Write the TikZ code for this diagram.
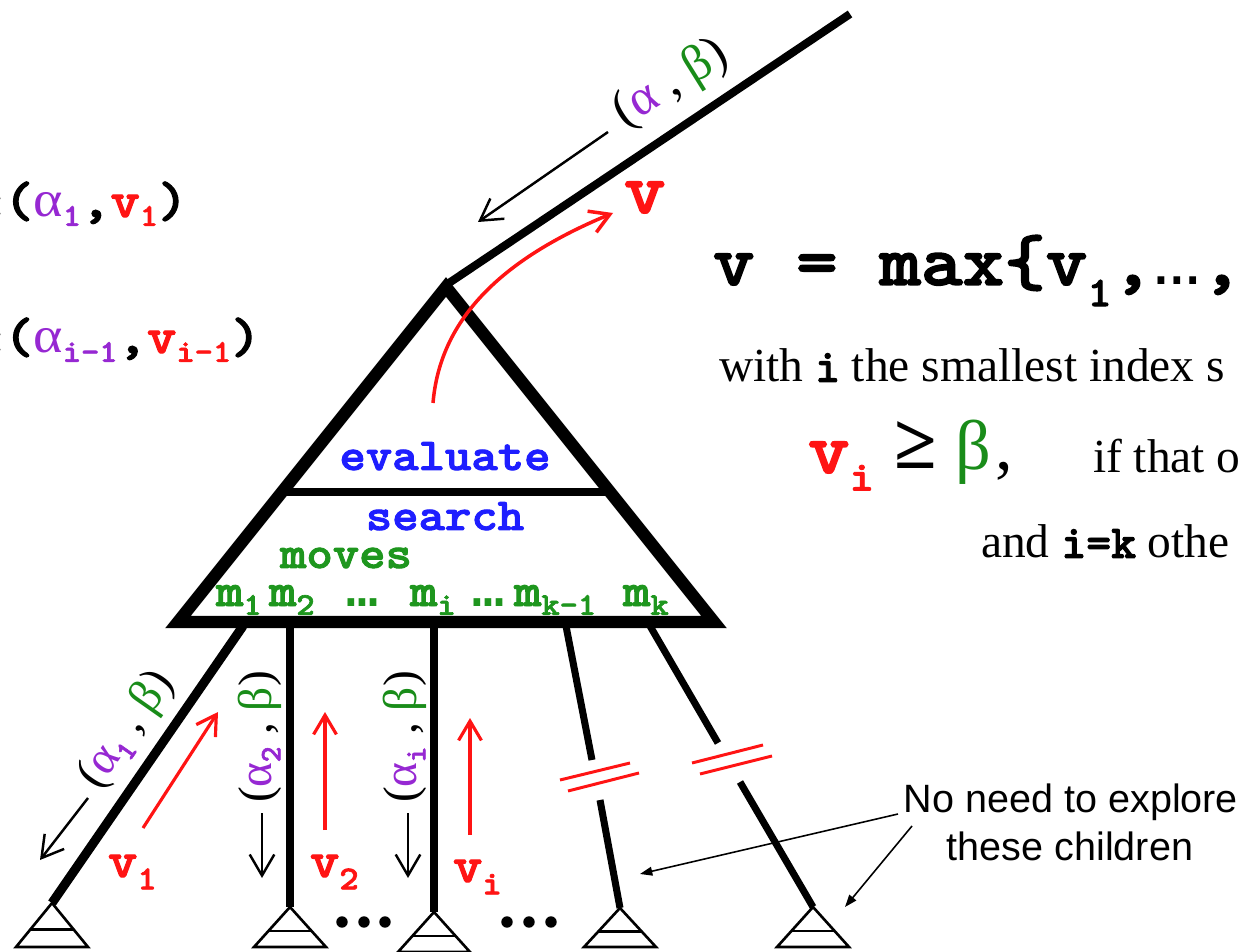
\documentclass[tikz,border=0pt]{standalone}
\usepackage{graphicx}
\usepackage{fontspec}
\setmainfont{Liberation Serif}
\newfontfamily\monof{Liberation Mono}
\newfontfamily\sansf{Liberation Sans}
\newfontfamily\cbf{lmmonolt10-bold.otf}[FakeBold=2]
\usetikzlibrary{arrows.meta}
\definecolor{cred}{RGB}{255,20,20}
\definecolor{cpurple}{RGB}{150,40,210}
\definecolor{cgreen}{RGB}{25,140,25}
\definecolor{cgreenb}{RGB}{30,150,30}
\definecolor{cblue}{RGB}{30,30,255}
\newcommand{\fsz}[1]{\fontsize{#1}{#1}\selectfont}
\newcommand{\cb}{\cbf}
\newcommand{\cw}[1]{\scalebox{1.1}[1]{#1}}
\newcommand{\myell}{{\monof\bfseries …}}
\newcommand{\dn}[3]{\raisebox{-#1}{\fsz{#2}#3}}
\tikzset{
  every node/.style={inner sep=0pt, outer sep=0pt},
  bigtri/.style={line width=7pt, line join=miter},
  sepline/.style={line width=4pt},
  topline/.style={line width=4.6pt},
  branch/.style={line width=4.4pt},
  leaf/.style={line width=1.5pt, line join=miter},
  blackarr/.style={line width=1.4pt, -{Straight Barb[length=12pt,width=14pt]}},
  redarr/.style={cred, line width=1.8pt, -{Straight Barb[length=11pt,width=13pt]}},
  cutmark/.style={cred, line width=1.7pt},
  notearr/.style={line width=0.9pt, -{Triangle[length=7pt,width=5pt]}},
  dotc/.style={fill=black, draw=none, circle, minimum size=6.5pt}
}
\begin{document}
\begin{tikzpicture}[x=0.02cm,y=-0.02cm]
\useasboundingbox (0,0) rectangle (1241,952);
\clip (0,0) rectangle (1241,952);

% main triangle
\coordinate (apex) at (446,287);
\coordinate (bl) at (178,622);
\coordinate (br) at (714,622);
\coordinate (top) at (850,14);
\coordinate (sepl) at (283,492);
\coordinate (sepr) at (611,492);
\draw[topline] (446,285) coordinate (apex2) -- (top);
\draw[bigtri] (apex) -- (bl) -- (br) -- cycle;
\draw[sepline] (sepl) -- (sepr);

% children lines
\coordinate (c1t) at (243,626); \coordinate (c1b) at (52,903);
\coordinate (c2t) at (290,626); \coordinate (c2b) at (290,907);
\coordinate (c3t) at (434,626); \coordinate (c3b) at (434,912);
\coordinate (c4t) at (566,626); \coordinate (c4m) at (592,760);
\coordinate (c4n) at (600,800); \coordinate (c4b) at (620,908);
\coordinate (c5t) at (650,626); \coordinate (c5m) at (718,743);
\coordinate (c5n) at (740,782); \coordinate (c5b) at (813,907);
\draw[branch, line width=5.2pt] (c1t) -- (c1b);
\draw[branch] (c2t) -- (c2b);
\draw[branch] (c3t) -- (c3b);
\draw[branch, line width=4pt] (c4t) -- (c4m);
\draw[branch, line width=4pt] (c4n) -- (c4b);
\draw[branch, line width=4pt] (c5t) -- (c5m);
\draw[branch, line width=4pt] (c5n) -- (c5b);

% cut marks
\draw[cutmark] (560,780) coordinate (k1a) -- (630,763) coordinate (k1b);
\draw[cutmark] (568,791) coordinate (k2a) -- (639,773) coordinate (k2b);
\draw[cutmark] (692,763) coordinate (k3a) -- (763,745) coordinate (k3b);
\draw[cutmark] (700,774) coordinate (k4a) -- (772,756) coordinate (k4b);

% leaf triangles
\foreach \n/\cx/\ty/\by in {1/52/903/947, 2/290/907/947, 3/434/912/952, 4/620/908/947, 5/813/907/947}{
  \pgfmathsetmacro{\hh}{\by-\ty}
  \pgfmathsetmacro{\my}{\ty+0.6*\hh}
  \pgfmathsetmacro{\mw}{36*0.6}
  \draw[leaf] (\cx,\ty) -- (\cx-36,\by) -- (\cx+36,\by) -- cycle;
  \draw[leaf] (\cx-\mw,\my) -- (\cx+\mw,\my);
}

% dots
\node[dotc] (d1) at (342,922) {};
\node[dotc] (d2) at (364,922) {};
\node[dotc] (d3) at (385,922) {};
\node[dotc] (d4) at (507,922) {};
\node[dotc] (d5) at (529,922) {};
\node[dotc] (d6) at (551,922) {};

% triangle labels
\node[anchor=base] (evl) at (445,470) {\cw{\fsz{26}\cb\color{cblue}evaluate}};
\node[anchor=base] (srch) at (445,530) {\cw{\fsz{26}\cb\color{cblue}search}};
\node[anchor=base] (mvs) at (346,568) {\cw{\fsz{26}\cb\color{cgreenb}moves}};
\node[anchor=base west] (m1) at (216,606) {\cw{\fsz{27}\cb\color{cgreenb}m\dn{5pt}{18}{1}}};
\node[anchor=base west] (m2) at (269,606) {\cw{\fsz{27}\cb\color{cgreenb}m\dn{5pt}{18}{2}}};
\node[anchor=base west] (md1) at (346,606) {\fsz{30}\color{cgreenb}\myell};
\node[anchor=base west] (mi) at (410,606) {\cw{\fsz{27}\cb\color{cgreenb}m\dn{5pt}{18}{i}}};
\node[anchor=base west] (md2) at (472,606) {\fsz{30}\color{cgreenb}\myell};
\node[anchor=base west] (mk1) at (514,606) {\cw{\fsz{27}\cb\color{cgreenb}m\dn{5pt}{18}{k-1}}};
\node[anchor=base west] (mk) at (623,606) {\cw{\fsz{27}\cb\color{cgreenb}m\dn{5pt}{18}{k}}};

% red curve up and v
\coordinate (rc1) at (433,403);
\coordinate (rc2) at (613,213);
\draw[redarr, line width=2pt] (rc1) .. controls (440,320) and (500,260) .. (rc2);
\node[anchor=base west] (vtop) at (624,213) {\cw{\fsz{41}\cb\color{cred}v}};

% top black arrow + label
\coordinate (ta1) at (608,132);
\coordinate (ta2) at (478,222);
\draw[blackarr] (ta1) -- (ta2);
\node[rotate=32] (toplab) at (671,84) {\fsz{29}(\textcolor{cpurple}{α} , \textcolor{cgreen}{β})};

% left texts
\node[anchor=base] (colon1) at (-4,217) {\cw{\fsz{29}\cb :}};
\node[anchor=base west] (lt1) at (4,217) {\cw{\fsz{29}\cb(\textcolor{cpurple}{\rmfamily\mdseries α}\textcolor{cpurple}{\dn{5pt}{18}{1}},\textcolor{cred}{v\dn{5pt}{18}{1}})}};
\node[anchor=base] (colon2) at (-4,353) {\cw{\fsz{29}\cb :}};
\node[anchor=base west] (lt2) at (4,353) {\cw{\fsz{29}\cb(\textcolor{cpurple}{\rmfamily\mdseries α}\textcolor{cpurple}{\dn{5pt}{18}{i-1}},\textcolor{cred}{v\dn{5pt}{18}{i-1}})}};

% right formula
\node[anchor=base west] (maxf) at (713,285) {\cw{\fsz{41}\cb v = max\{v\dn{12pt}{24}{1},{\monof\mdseries …},}};
\node[anchor=base west] (withl) at (719,382) {\fsz{27}with {\cb i} the smallest index s};
\node[anchor=base west] (vi) at (808,473) {\cw{\fsz{41}\cb\color{cred}v\dn{10pt}{24}{i}}};
\node[anchor=base west] (geq) at (894,469) {\fsz{44}\bfseries ≥};
\node[anchor=base west] (beta) at (955,470) {\fsz{40}\color{cgreen}β};
\node[anchor=base west] (comma) at (995,470) {\fsz{40},};
\node[anchor=base west] (ifthat) at (1093,473) {\fsz{27}if that o};
\node[anchor=base west] (andl) at (981,558) {\fsz{27}and {\cb i=k} othe};

% children labels and arrows
\node[rotate=55] (lab1) at (127,730) {\fsz{27}(\textcolor{cpurple}{α\dn{5pt}{17}{\cb 1}} , \textcolor{cgreen}{β})};
\node[rotate=90] (lab2) at (260,737) {\fsz{27}(\textcolor{cpurple}{α\dn{5pt}{17}{\cb 2}} , \textcolor{cgreen}{β})};
\node[rotate=90] (lab3) at (405,737) {\fsz{27}(\textcolor{cpurple}{α\dn{5pt}{17}{\cb i}} , \textcolor{cgreen}{β})};

\coordinate (b1a) at (88,798);  \coordinate (b1b) at (40,860);
\coordinate (b2a) at (262,813); \coordinate (b2b) at (262,878);
\coordinate (b3a) at (408,813); \coordinate (b3b) at (408,878);
\draw[blackarr] (b1a) -- (b1b);
\draw[blackarr] (b2a) -- (b2b);
\draw[blackarr] (b3a) -- (b3b);

\coordinate (r1a) at (143,828); \coordinate (r1b) at (218,712);
\coordinate (r2a) at (325,830); \coordinate (r2b) at (325,712);
\coordinate (r3a) at (470,835); \coordinate (r3b) at (470,718);
\draw[redarr] (r1a) -- (r1b);
\draw[redarr] (r2a) -- (r2b);
\draw[redarr] (r3a) -- (r3b);

\node[anchor=base west] (v1l) at (108,877) {\cw{\fsz{29}\cb\color{cred}v\dn{7pt}{19}{1}}};
\node[anchor=base west] (v2l) at (310,877) {\cw{\fsz{29}\cb\color{cred}v\dn{7pt}{19}{2}}};
\node[anchor=base west] (vil) at (453,882) {\cw{\fsz{29}\cb\color{cred}v\dn{7pt}{19}{i}}};

% note
\node[anchor=base] (note1) at (1071,812) {\fsz{22.5}\sansf No need to explore};
\node[anchor=base] (note2) at (1070,860) {\fsz{22.5}\sansf these children};
\coordinate (n1a) at (898,814); \coordinate (n1b) at (640,874);
\coordinate (n2a) at (912,826); \coordinate (n2b) at (845,907);
\draw[notearr] (n1a) -- (n1b);
\draw[notearr] (n2a) -- (n2b);
\end{tikzpicture}
\end{document}
